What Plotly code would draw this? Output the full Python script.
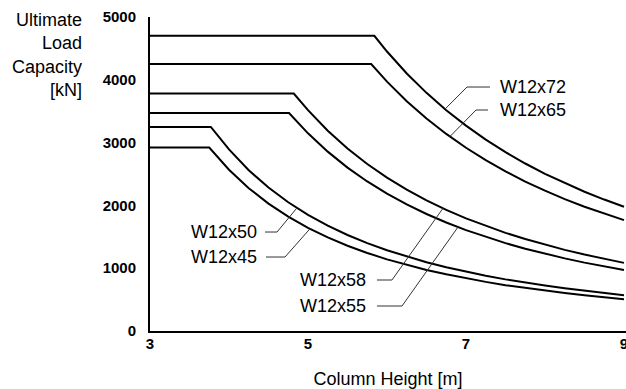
import numpy as np
import plotly.graph_objects as go

# ---- data (column height [m] vs ultimate load [kN]) ----
w12x72_height = [3.0, 5.84, 6.0, 6.25, 6.5, 6.75, 7.0, 7.25, 7.5, 7.75, 8.0, 8.25, 8.5, 8.75, 9.0]
w12x72_load = [4700, 4700, 4450, 4101, 3792, 3516, 3270, 3048, 2848, 2667, 2503, 2354, 2217, 2093, 1978]

w12x65_height = [3.0, 5.80, 6.0, 6.25, 6.5, 6.75, 7.0, 7.25, 7.5, 7.75, 8.0, 8.25, 8.5, 8.75, 9.0]
w12x65_load = [4250, 4250, 3971, 3660, 3384, 3138, 2918, 2720, 2542, 2380, 2234, 2100, 1979, 1867, 1765]

w12x58_height = [3.0, 4.82, 5.0, 5.25, 5.5, 5.75, 6.0, 6.25, 6.5, 6.75, 7.0, 7.25, 7.5, 7.75, 8.0,
                 8.25, 8.5, 8.75, 9.0]
w12x58_load = [3780, 3780, 3517, 3190, 2906, 2659, 2442, 2251, 2081, 1930, 1794, 1673, 1563, 1464, 1374,
               1292, 1217, 1148, 1085]

w12x55_height = [3.0, 4.76, 5.0, 5.25, 5.5, 5.75, 6.0, 6.25, 6.5, 6.75, 7.0, 7.25, 7.5, 7.75, 8.0,
                 8.25, 8.5, 8.75, 9.0]
w12x55_load = [3470, 3470, 3148, 2856, 2602, 2381, 2186, 2015, 1863, 1728, 1606, 1497, 1399, 1311, 1230,
               1156, 1089, 1028, 972]

w12x50_height = [3.0, 3.77, 4.0, 4.25, 4.5, 4.75, 5.0, 5.25, 5.5, 5.75, 6.0, 6.25, 6.5, 6.75, 7.0,
                 7.25, 7.5, 7.75, 8.0, 8.25, 8.5, 8.75, 9.0]
w12x50_load = [3250, 3250, 2891, 2561, 2284, 2050, 1850, 1678, 1529, 1399, 1285, 1184, 1095, 1015, 944,
               880, 822, 770, 723, 680, 640, 604, 571]

w12x45_height = [3.0, 3.75, 4.0, 4.25, 4.5, 4.75, 5.0, 5.25, 5.5, 5.75, 6.0, 6.25, 6.5, 6.75, 7.0,
                 7.25, 7.5, 7.75, 8.0, 8.25, 8.5, 8.75, 9.0]
w12x45_load = [2920, 2920, 2568, 2274, 2029, 1821, 1643, 1490, 1358, 1243, 1141, 1052, 972, 902, 838,
               782, 730, 684, 642, 604, 569, 537, 507]

series_names = ["W12x72", "W12x65", "W12x58", "W12x55", "W12x50", "W12x45"]
series_heights = [w12x72_height, w12x65_height, w12x58_height, w12x55_height, w12x50_height, w12x45_height]
series_loads = [w12x72_load, w12x65_load, w12x58_load, w12x55_load, w12x50_load, w12x45_load]

x_tick_values = [3, 5, 7, 9]
y_tick_values = [0, 1000, 2000, 3000, 4000, 5000]

# label placement (text anchor, leader elbow, height where the leader meets its curve)
label_side = ["left", "left", "right", "right", "right", "right"]
label_text_x = [7.405, 7.405, 5.759, 5.759, 4.380, 4.380]
label_text_y = [3885, 3519, 812, 398, 1576, 1178]
leader_start_x = [7.304, 7.278, 5.873, 5.873, 4.456, 4.468]
leader_elbow_x = [7.013, 7.127, 6.063, 6.190, 4.608, 4.709]
leader_target_x = [6.734, 6.797, 6.709, 6.899, 4.861, 5.025]

FONT = "Liberation Sans, Arial, sans-serif"

fig = go.Figure()
for name, h, p in zip(series_names, series_heights, series_loads):
    fig.add_trace(go.Scatter(x=h, y=p, mode="lines", name=name,
                             line=dict(color="black", width=2), hoverinfo="x+y+name"))

for i, name in enumerate(series_names):
    ty = float(np.interp(leader_target_x[i], series_heights[i], series_loads[i]))
    y0 = label_text_y[i]
    fig.add_shape(type="path",
                  path=f"M {leader_start_x[i]} {y0} L {leader_elbow_x[i]} {y0} L {leader_target_x[i]} {ty}",
                  xref="x", yref="y", line=dict(color="#333333", width=1))
    fig.add_annotation(x=label_text_x[i], y=y0, xref="x", yref="y", text=name, showarrow=False,
                       xanchor=label_side[i], yanchor="middle",
                       font=dict(family=FONT, size=18, color="black"))

# y-axis title, stacked and right aligned at the top-left
fig.add_annotation(x=-0.138, y=1.03, xref="paper", yref="paper",
                   text="Ultimate<br>Load<br>Capacity<br>[kN]", showarrow=False,
                   xanchor="right", yanchor="top", align="right",
                   font=dict(family=FONT, size=18, color="black"))

fig.update_layout(
    width=626, height=389,
    margin=dict(l=150, r=0, t=17, b=58, autoexpand=False),
    paper_bgcolor="white", plot_bgcolor="white",
    showlegend=False,
    font=dict(family=FONT, color="black"),
    xaxis=dict(range=[3, 3 + 476 / 79], tickvals=x_tick_values, ticks="", showgrid=False,
               zeroline=False, showline=True, linecolor="black", linewidth=2, automargin=False,
               tickfont=dict(family=FONT, size=15, color="black", weight="bold"), ticklabelstandoff=-2,
               ticklabeloverflow="allow",
               title=dict(text="Column Height [m]", font=dict(family=FONT, size=18, color="black"),
                          standoff=21)),
    yaxis=dict(range=[0, 5000], tickvals=y_tick_values, ticks="", showgrid=False,
               zeroline=False, showline=True, linecolor="black", linewidth=2, automargin=False,
               tickfont=dict(family=FONT, size=15, color="black", weight="bold"), ticklabelstandoff=9),
)

fig.write_html("out.html", config={"displayModeBar": False},
               post_script="document.body.style.margin='0';document.body.style.overflow='hidden';")
